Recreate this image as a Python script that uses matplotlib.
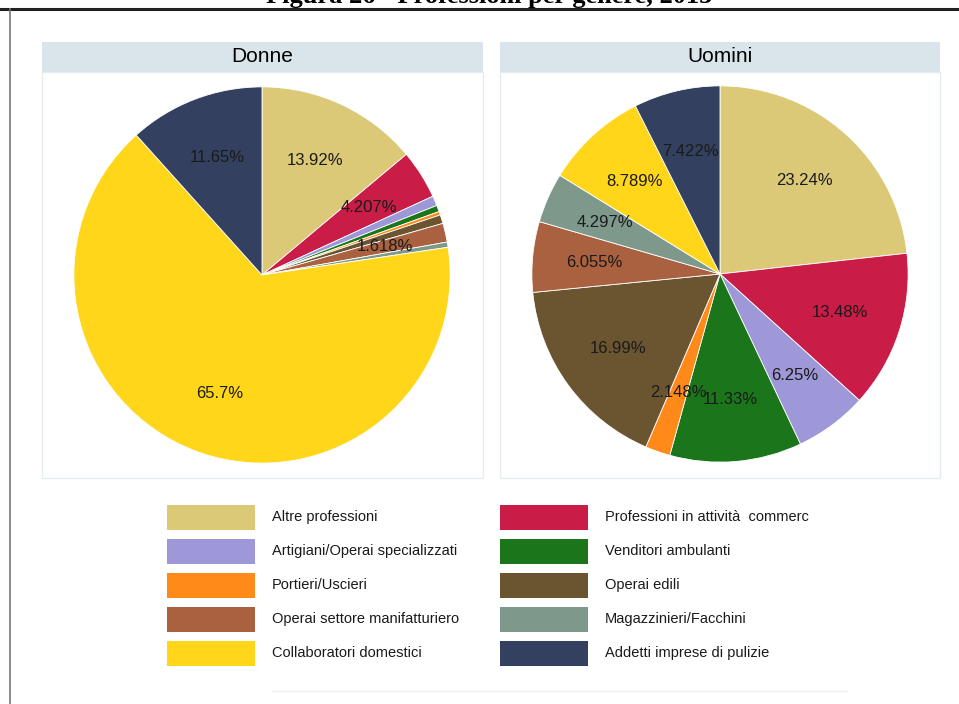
# Figura 26 - Professioni per genere, 2013 (due torte Stata-like)

import numpy as np
import matplotlib.pyplot as plt
from matplotlib.patches import Rectangle

plt.rcParams['font.family'] = ['Liberation Sans', 'DejaVu Sans']

categorie = ['Altre professioni', 'Professioni in attività  commerc',
             'Artigiani/Operai specializzati', 'Venditori ambulanti',
             'Portieri/Uscieri', 'Operai edili',
             'Operai settore manifatturiero', 'Magazzinieri/Facchini',
             'Collaboratori domestici', 'Addetti imprese di pulizie']
colori = ['#DBC978', '#C91C47', '#9E97D8', '#1B761B', '#FF8A1A',
          '#6B5530', '#A9613F', '#7E998B', '#FFD619', '#33405F']

donne = [13.92, 4.207, 0.85, 0.55, 0.30, 0.75, 1.618, 0.45, 65.7, 11.65]
donne_etichette = ['13.92%', '4.207%', '', '', '', '', '1.618%', '', '65.7%', '11.65%']
uomini = [23.24, 13.48, 6.25, 11.33, 2.148, 16.99, 6.055, 4.297, 8.789, 7.422]
uomini_etichette = ['23.24%', '13.48%', '6.25%', '11.33%', '2.148%', '16.99%',
                    '6.055%', '4.297%', '8.789%', '7.422%']

W, H = 959, 704
fig = plt.figure(figsize=(W / 100, H / 100), dpi=100)


def px(x, y, w, h):
    # rettangolo in pixel (origine in alto a sinistra) -> frazione di figura
    return [x / W, 1 - (y + h) / H, w / W, h / H]


# cornice esterna
fig.add_artist(plt.Line2D([0, 1], [1 - 9 / H, 1 - 9 / H], color='#222222', lw=2.2))
fig.add_artist(plt.Line2D([9.5 / W, 9.5 / W], [0, 1 - 9 / H], color='#777777', lw=1.2))
fig.text(489 / W, 1 - 3 / H, 'Figura 26 - Professioni per genere, 2013',
         ha='center', va='baseline', fontsize=19, fontweight='bold',
         family=['Liberation Serif', 'DejaVu Serif'])

pannelli = [('Donne', 42, 441, 262, 275, donne, donne_etichette),
            ('Uomini', 500, 440, 720, 274, uomini, uomini_etichette)]

for titolo, x0, larg, cx, cy, valori, etichette in pannelli:
    # intestazione e riquadro
    fig.add_artist(Rectangle(px(x0, 72, larg, 406)[:2], larg / W, 406 / H,
                             transform=fig.transFigure, facecolor='white',
                             edgecolor='#E4ECF0', lw=1, zorder=-2))
    fig.add_artist(Rectangle(px(x0, 42, larg, 30)[:2], larg / W, 30 / H,
                             transform=fig.transFigure, facecolor='#D9E5EB',
                             edgecolor='none', zorder=-1))
    fig.text((x0 + larg / 2) / W, 1 - 57 / H, titolo, ha='center', va='center',
             fontsize=15)

    r = 190
    ax = fig.add_axes(px(cx - r, cy - r, 2 * r, 2 * r))
    ax.set_zorder(3)
    ax.patch.set_visible(False)
    wedges, testi = ax.pie(valori, labels=None, colors=colori, startangle=90,
                           counterclock=False, radius=1,
                           wedgeprops=dict(edgecolor='white', linewidth=0.6))
    for w, et in zip(wedges, etichette):
        if not et:
            continue
        ang = np.deg2rad((w.theta1 + w.theta2) / 2)
        ax.text(0.67 * np.cos(ang), 0.67 * np.sin(ang), et, ha='center',
                va='center', fontsize=12, color='#1a1a1a')
    ax.set_xlim(-1.01, 1.01)
    ax.set_ylim(-1.01, 1.01)
    ax.set_aspect('equal')
    ax.axis('off')

# legenda su due colonne (ordine per righe)
col_x = [167, 500]
righe_y = [517, 551, 585, 619, 653]
for i, (lab, c) in enumerate(zip(categorie, colori)):
    riga, col = i // 2, i % 2
    x = col_x[col]
    y = righe_y[riga]
    fig.add_artist(Rectangle(((x) / W, 1 - (y + 12.5) / H), 88 / W, 25 / H,
                             transform=fig.transFigure, facecolor=c,
                             edgecolor='none'))
    fig.text((x + 105) / W, 1 - y / H, lab, ha='left', va='center',
             fontsize=10.5, color='#1a1a1a')

# linea grigia in basso
fig.add_artist(plt.Line2D([272 / W, 847 / W], [1 - 691 / H, 1 - 691 / H],
                          color='#EEEEEE', lw=1))

plt.savefig('out.png', dpi=100)
